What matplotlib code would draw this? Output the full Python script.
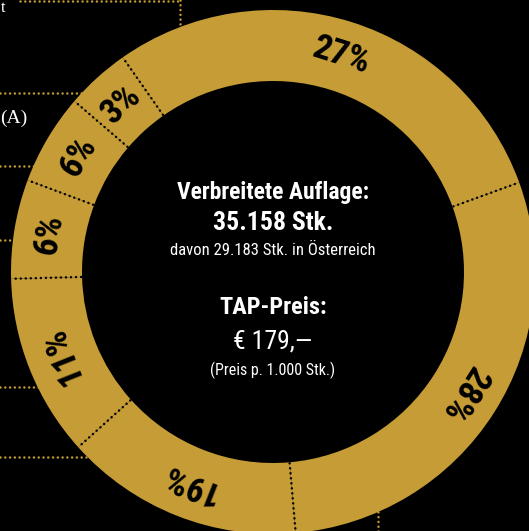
import matplotlib
matplotlib.use('Agg')
import matplotlib.pyplot as plt
import numpy as np
from matplotlib import font_manager as fm

# ---- data ----
labels = ['27%', '28%', '19%', '11%', '6%', '6%', '3%']
segment_share = [29.17, 29.17, 14.72, 11.25, 6.11, 5.61, 3.97]  # arc share as drawn (%)

title_line = 'Verbreitete Auflage:'
total_line = '35.158 Stk.'
austria_line = 'davon 29.183 Stk. in Österreich'
price_title = 'TAP-Preis:'
price_line = '€ 179,—'
price_note = '(Preis p. 1.000 Stk.)'

# ---- style ----
GOLD = '#C59C35'
W, H = 529, 531
names = {f.name for f in fm.fontManager.ttflist}
COND = next((n for n in ['Liberation Sans Narrow', 'Roboto Condensed', 'DejaVu Sans'] if n in names), 'DejaVu Sans')
SERIF = next((n for n in ['Liberation Serif', 'DejaVu Serif'] if n in names), 'serif')

fig = plt.figure(figsize=(W / 100, H / 100), dpi=100, facecolor='black')
ax = fig.add_axes([0, 0, 1, 1])
ax.set_facecolor('black')

cx, cy = 273, H - 272
r_out, r_in = 262, 191
start = 125

def Y(y):
    return H - y

# leader lines (gold, dotted) behind the ring
leaders = [((20, 1), (180, 1)), ((180, 0), (180, 60)),
           ((0, 93), (120, 93)), ((0, 166), (70, 166)), ((0, 240), (45, 240)),
           ((0, 387), (70, 387)), ((0, 457), (120, 457)), ((378, 531), (378, 480))]
for (x0, y0), (x1, y1) in leaders:
    ax.plot([x0, x1], [Y(y0), Y(y1)], color=GOLD, lw=1.8, linestyle=(0, (0.01, 1.9)),
            dash_capstyle='round', zorder=1)

# ring
ax.pie(segment_share, radius=r_out, center=(cx, cy), startangle=start, counterclock=False,
       colors=[GOLD] * len(segment_share),
       wedgeprops=dict(width=r_out - r_in, edgecolor='none', linewidth=0), frame=False)
for w in ax.patches:
    w.set_zorder(2)

# separators
bounds = start - 360 * np.concatenate([[0], np.cumsum(segment_share)]) / 100.0
for b in bounds[:-1]:
    t = np.deg2rad(b)
    rr = np.array([r_in + 1, r_out - 1])
    ax.plot(cx + rr * np.cos(t), cy + rr * np.sin(t), color='black', lw=1.8,
            linestyle=(0, (0.01, 2.0)), dash_capstyle='round', zorder=3)

# percentage labels
r_mid = (r_in + r_out) / 2
for lab, a0, a1 in zip(labels, bounds[:-1], bounds[1:]):
    m = (a0 + a1) / 2
    t = np.deg2rad(m)
    ax.text(cx + r_mid * np.cos(t), cy + r_mid * np.sin(t), lab, rotation=m - 90,
            rotation_mode='anchor', ha='center', va='center', fontsize=25.5,
            fontweight='bold', family=[COND], fontstretch='condensed', color='black', zorder=4)

# centre text
txt = [(title_line, 192, 17, 'bold'), (total_line, 223, 18.5, 'bold'),
       (austria_line, 250, 12, 'normal'), (price_title, 308, 17.5, 'bold'),
       (price_line, 342, 18.5, 'normal'), (price_note, 370, 11.5, 'normal')]
for s, y, fs, fw in txt:
    ax.text(cx, Y(y), s, ha='center', va='center', fontsize=fs, fontweight=fw,
            family=[COND], fontstretch='condensed', color='white', zorder=4)

# side texts (partly outside the chart in the source)
ax.text(0.5, Y(118), '(A)', ha='left', va='center', fontsize=14, family=[SERIF], color='white')
ax.text(0.5, Y(8), 't', ha='left', va='center', fontsize=12, family=[SERIF], color='white')

ax.set_xlim(0, W)
ax.set_ylim(0, H)
ax.set_aspect('auto')
ax.axis('off')
fig.savefig('out.png', dpi=100, facecolor='black')
